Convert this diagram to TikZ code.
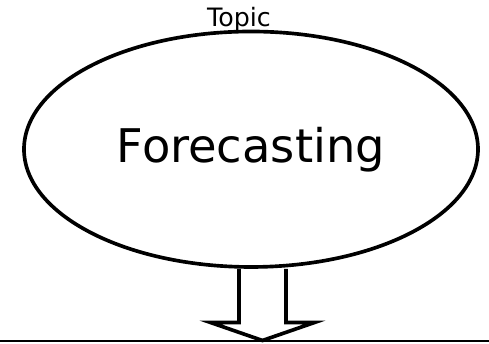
\documentclass[tikz,border=0pt]{standalone}
\usepackage{fontspec}
\setmainfont{DejaVu Sans}
\usetikzlibrary{shapes.geometric,calc}

\tikzset{heavy/.style={line width=2.6pt}}

\begin{document}
\begin{tikzpicture}
  \useasboundingbox (0,0) rectangle (12.225,8.6);

  \node[ellipse, draw, heavy, fill=white, inner sep=0pt,
        minimum width=11.35cm, minimum height=5.8875cm,
        font=\fontsize{33}{40}\selectfont] (forecast) at (6.275,4.869) {Forecasting};
  \node[anchor=base, inner sep=0pt, font=\fontsize{18}{22}\selectfont] (topic) at (5.975,7.93) {Topic};

  \coordinate (groundL) at (0,0.075);
  \coordinate (groundR) at (12.225,0.075);
  \coordinate (tip) at (6.5625,0.0875);

  \draw[line width=2pt] (groundL) -- (groundR);

  % block arrow
  \draw[heavy] ($(forecast.south -| tip)+(-0.5875,0)$) -- ($(tip)+(-0.5875,0.45)$)
    -- ($(tip)+(-1.3,0.45)$) -- (tip) -- ($(tip)+(1.3,0.45)$)
    -- ($(tip)+(0.5875,0.45)$) -- ($(forecast.south -| tip)+(0.5875,0)$);

\end{tikzpicture}
\end{document}
